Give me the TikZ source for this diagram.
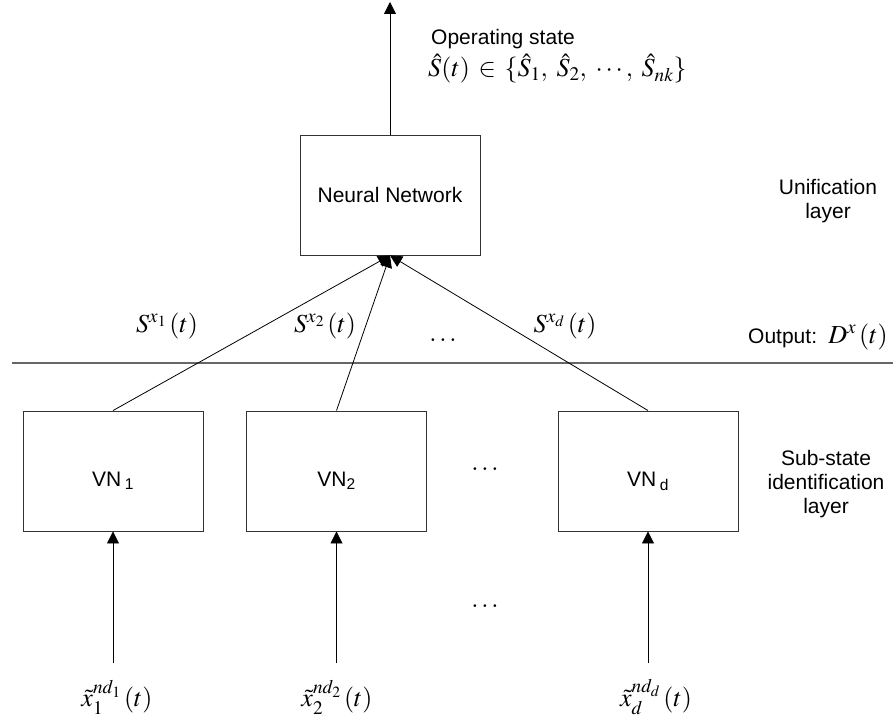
\documentclass[tikz,border=0pt]{standalone}
\usepackage{mathptmx}
\usepackage[no-math]{fontspec}
\setmainfont{Liberation Sans}
\usepackage{tikz}
\usetikzlibrary{arrows.meta}

\tikzset{
  boite/.style={draw=black!80,line width=0.9pt,minimum width=180pt,minimum height=120pt,inner sep=0pt},
  vnboite/.style={boite,text height=30pt,text depth=0pt},
  fleche/.style={-{Triangle[length=12pt,width=12pt]},line width=0.8pt},
  texte/.style={font=\fontsize{21}{24}\selectfont,align=center,inner sep=0pt},
  formule/.style={font=\fontsize{26}{30}\selectfont,inner sep=0pt}
}

\begin{document}
\begin{tikzpicture}[x=1pt,y=-1pt]
\useasboundingbox (0,0) rectangle (893,722);
% Boites
\node [boite,texte] (nn) at (390,195) {Neural Network};
\node [vnboite,texte] (vn1) at (113,471) {VN\,\textsubscript{1}};
\node [vnboite,texte] (vn2) at (336.5,471) {VN\textsubscript{2}};
\node [vnboite,texte] (vnd) at (648,471) {VN\,\textsubscript{d}};
% Textes
\node [texte,anchor=base west] (etat) at (431,45) {Operating state};
\node [formule,anchor=base west] (ens) at (428,77) {$\hat{S}(t)\,\in\,\{\hat{S}_1,\;\hat{S}_2,\;\cdots,\;\hat{S}_{nk}\}$};
\node [texte] (unif) at (828,201) {Unification\\layer};
\node [texte] (sous) at (826,484) {Sub-state\\identification\\layer};
\node [texte,anchor=base west] (sortie) at (748,343) {Output: \,{\fontsize{26}{30}\selectfont$D^{x}\,(t)$}};
\node [formule,anchor=base] (s1) at (167,332) {$S^{x_1}\,(t)$};
\node [formule,anchor=base] (s2) at (325,332) {$S^{x_2}\,(t)$};
\node [formule,anchor=base] (sd) at (565,332) {$S^{x_d}\,(t)$};
\node [formule] (pts1) at (443,340) {$\ldots$};
\node [formule] (pts2) at (485,469) {$\ldots$};
\node [formule] (pts3) at (485,606) {$\ldots$};
\node [formule,anchor=base] (x1) at (117,706) {$\tilde{x}_1^{nd_1}\,(t)$};
\node [formule,anchor=base] (x2) at (337,706) {$\tilde{x}_2^{nd_2}\,(t)$};
\node [formule,anchor=base] (xd) at (656,706) {$\tilde{x}_d^{nd_d}\,(t)$};
% Points
\coordinate (sommet) at (390,2);
\coordinate (g) at (12,363);
\coordinate (d) at (893,363);
\coordinate (e1) at (113,663);
\coordinate (e2) at (336.5,663);
\coordinate (ed) at (648,663);
% Fleches
\draw [line width=1.2pt,black!60] (g) -- (d);
\draw [fleche] (nn.north) -- (sommet);
\draw [fleche] (vn1.north) -- (nn.south);
\draw [fleche] (vn2.north) -- (nn.south);
\draw [fleche] (vnd.north) -- (nn.south);
\draw [fleche] (e1) -- (vn1.south);
\draw [fleche] (e2) -- (vn2.south);
\draw [fleche] (ed) -- (vnd.south);
\end{tikzpicture}
\end{document}
